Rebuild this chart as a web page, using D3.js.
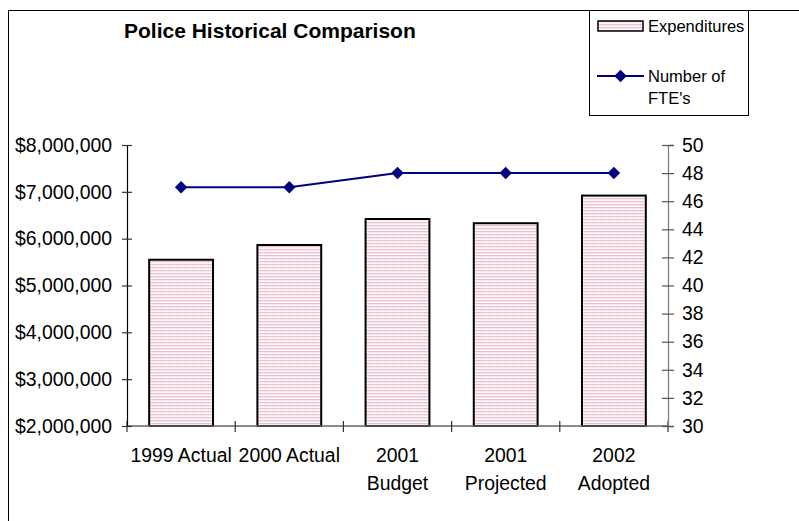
<!DOCTYPE html>
<html>
<head>
<meta charset="utf-8">
<script src="https://cdn.jsdelivr.net/npm/d3@7"></script>
<style>
  body { margin: 0; background: #fff; }
  svg { display: block; font-family: "Liberation Sans", Arial, sans-serif; }
</style>
</head>
<body>
<div id="chart"></div>
<script>
const categories = ["1999 Actual", "2000 Actual", "2001 Budget", "2001 Projected", "2002 Adopted"];
// labels that wrap onto two lines
const categoryLines = [["1999 Actual"], ["2000 Actual"], ["2001", "Budget"], ["2001", "Projected"], ["2002", "Adopted"]];
const expenditures = [5550000, 5865000, 6420000, 6330000, 6920000];
const fte = [47, 47, 48, 48, 48];
const leftTicks = [2000000, 3000000, 4000000, 5000000, 6000000, 7000000, 8000000];
const rightTicks = [30, 32, 34, 36, 38, 40, 42, 44, 46, 48, 50];

const width = 799, height = 521;
const plot = { left: 127, right: 668, top: 145, bottom: 426 };
const fontSize = 19.4;

const svg = d3.select("#chart").append("svg")
    .attr("width", width)
    .attr("height", height);

// bar fill: fine pink stripes like the excel pattern
const defs = svg.append("defs");
const pat = defs.append("pattern")
    .attr("id", "pinkpat")
    .attr("patternUnits", "userSpaceOnUse")
    .attr("width", 2).attr("height", 3);
pat.append("rect").attr("width", 2).attr("height", 3).attr("fill", "#fdf7f9");
pat.append("rect").attr("y", 0).attr("width", 2).attr("height", 1).attr("fill", "#e9c3d2");
pat.append("rect").attr("x", 0).attr("y", 1).attr("width", 1).attr("height", 1).attr("fill", "#f2dbe4");

// outer chart frame (only left and top edges visible)
svg.append("rect")
    .attr("x", 8.5).attr("y", 10.5)
    .attr("width", 900).attr("height", 700)
    .attr("fill", "none").attr("stroke", "#000").attr("stroke-width", 1);

const x = d3.scaleBand().domain(categories).range([plot.left, plot.right]).padding(0);
const yLeft = d3.scaleLinear().domain([2000000, 8000000]).range([plot.bottom, plot.top]);
const yRight = d3.scaleLinear().domain([30, 50]).range([plot.bottom, plot.top]);
const barW = x.bandwidth() * 0.59;

// bars
svg.append("g")
    .selectAll("rect")
    .data(expenditures)
    .enter()
    .append("rect")
    .attr("x", (d, i) => x(categories[i]) + (x.bandwidth() - barW) / 2)
    .attr("y", d => yLeft(d))
    .attr("width", barW)
    .attr("height", d => yLeft(2000000) - yLeft(d))
    .attr("fill", "url(#pinkpat)")
    .attr("stroke", "#000")
    .attr("stroke-width", 2);

// x axis baseline + boundary ticks
const xg = svg.append("g");
xg.append("line")
    .attr("x1", plot.left).attr("x2", plot.right)
    .attr("y1", plot.bottom).attr("y2", plot.bottom)
    .attr("stroke", "#666").attr("stroke-width", 1.3);
const bounds = categories.map(c => x(c)).concat([plot.right]);
xg.selectAll("line.tick")
    .data(bounds)
    .enter()
    .append("line")
    .attr("class", "tick")
    .attr("x1", d => d).attr("x2", d => d)
    .attr("y1", plot.bottom - 5).attr("y2", plot.bottom + 6)
    .attr("stroke", "#333").attr("stroke-width", 1.2);

const xl = xg.selectAll("text")
    .data(categoryLines)
    .enter()
    .append("text")
    .attr("text-anchor", "middle")
    .attr("font-size", fontSize)
    .attr("fill", "#000");
xl.selectAll("tspan")
    .data((d, i) => d.map(s => ({ s, i })))
    .enter()
    .append("tspan")
    .attr("x", d => x(categories[d.i]) + x.bandwidth() / 2)
    .attr("y", (d, j) => 462 + j * 28)
    .text(d => d.s);

// left axis
const leftAxis = svg.append("g")
    .attr("transform", `translate(${plot.left},0)`)
    .call(d3.axisLeft(yLeft).tickValues(leftTicks).tickSize(5).tickPadding(10)
        .tickFormat(d => "$" + d3.format(",")(d)));
leftAxis.select(".domain").attr("stroke", "#000").attr("stroke-width", 1.2);
leftAxis.selectAll(".tick line").attr("x1", 5).attr("x2", -5).attr("stroke", "#333").attr("stroke-width", 1.2);
leftAxis.selectAll(".tick text").attr("font-size", fontSize).attr("fill", "#000")
    .attr("font-family", "Liberation Sans, Arial, sans-serif");

// right axis
const rightAxis = svg.append("g")
    .attr("transform", `translate(${plot.right},0)`)
    .call(d3.axisRight(yRight).tickValues(rightTicks).tickSize(6).tickPadding(8));
rightAxis.select(".domain").attr("stroke", "#808080").attr("stroke-width", 1.3);
rightAxis.selectAll(".tick line").attr("x1", -6).attr("x2", 6).attr("stroke", "#555").attr("stroke-width", 1.2);
rightAxis.selectAll(".tick text").attr("font-size", fontSize).attr("fill", "#000")
    .attr("font-family", "Liberation Sans, Arial, sans-serif");

// FTE line
const line = d3.line()
    .x((d, i) => x(categories[i]) + x.bandwidth() / 2)
    .y(d => yRight(d));
svg.append("path")
    .datum(fte)
    .attr("d", line)
    .attr("fill", "none")
    .attr("stroke", "#000080")
    .attr("stroke-width", 2);

const diamond = d3.symbol().type(d3.symbolSquare).size(78);
svg.append("g")
    .selectAll("path")
    .data(fte)
    .enter()
    .append("path")
    .attr("d", diamond)
    .attr("transform", (d, i) => `translate(${x(categories[i]) + x.bandwidth() / 2},${yRight(d)}) rotate(45)`)
    .attr("fill", "#000080");

// title
svg.append("text")
    .attr("x", 124).attr("y", 38)
    .attr("font-size", 21)
    .attr("font-weight", "bold")
    .attr("fill", "#000")
    .text("Police Historical Comparison");

// legend
const lg = svg.append("g");
lg.append("rect")
    .attr("x", 589.5).attr("y", 10.5)
    .attr("width", 159).attr("height", 105)
    .attr("fill", "#fff").attr("stroke", "#000").attr("stroke-width", 1);
lg.append("rect")
    .attr("x", 598).attr("y", 21)
    .attr("width", 45).attr("height", 10)
    .attr("fill", "url(#pinkpat)").attr("stroke", "#000").attr("stroke-width", 1.5);
lg.append("text")
    .attr("x", 648).attr("y", 32)
    .attr("font-size", 16.5)
    .text("Expenditures");
lg.append("line")
    .attr("x1", 597).attr("x2", 644)
    .attr("y1", 76).attr("y2", 76)
    .attr("stroke", "#000080").attr("stroke-width", 2);
lg.append("path")
    .attr("d", diamond)
    .attr("transform", "translate(620.5,76) rotate(45)")
    .attr("fill", "#000080");
lg.append("text")
    .attr("x", 648).attr("y", 82)
    .attr("font-size", 16.5)
    .text("Number of");
lg.append("text")
    .attr("x", 648).attr("y", 104)
    .attr("font-size", 16.5)
    .text("FTE's");
</script>
</body>
</html>
